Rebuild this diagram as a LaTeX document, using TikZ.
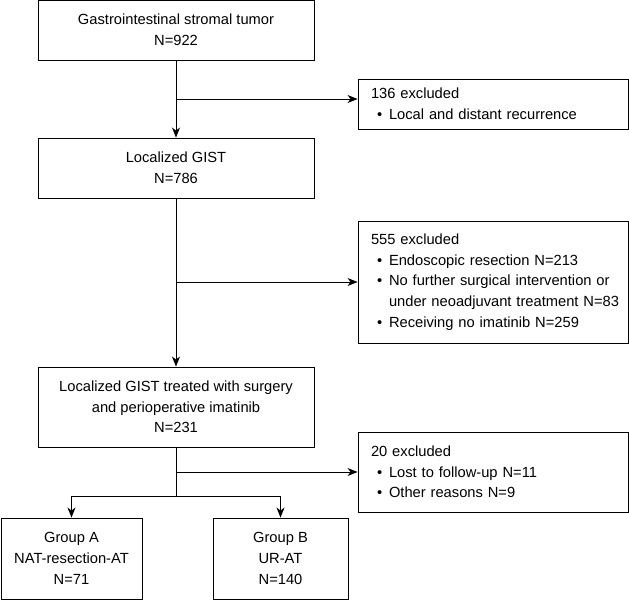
\documentclass[tikz,border=0pt]{standalone}
\usepackage{fontspec}
\setmainfont{Liberation Sans}
\usetikzlibrary{arrows.meta}
\newcommand{\bul}[1]{\mbox{\hspace*{6pt}\makebox[12pt][l]{\textbullet}#1}}
\newcommand{\cont}[1]{\mbox{\hspace*{18pt}#1}}
\begin{document}
\begin{tikzpicture}[x=1pt,y=-1pt,
  font=\fontsize{14.7}{20.7}\selectfont,
  box/.style={draw, line width=0.9pt, align=center, inner sep=0pt},
  exbox/.style={draw, line width=0.9pt, align=left, text width=244pt, inner xsep=13pt, inner ysep=0pt},
  conn/.style={line width=0.9pt},
  arr/.style={conn, -{Stealth[length=10pt,width=8pt,inset=3pt]}}]
\useasboundingbox (0,0) rectangle (629,600);

\node[box, minimum width=276pt, minimum height=60pt] (b1) at (176,30) {Gastrointestinal stromal tumor\\N=922};
\node[box, minimum width=276pt, minimum height=60pt] (b2) at (176,168) {Localized GIST\\N=786};
\node[box, minimum width=276pt, minimum height=80pt] (b3) at (176,407) {Localized GIST treated with surgery\\and perioperative imatinib\\N=231};
\node[box, minimum width=141pt, minimum height=81pt] (gA) at (71.5,558.5) {Group A\\NAT-resection-AT\\N=71};
\node[box, minimum width=135pt, minimum height=81pt] (gB) at (280.5,558.5) {Group B\\UR-AT\\N=140};

\node[exbox, minimum height=50pt] (e1) at (493,104) {136 excluded\\\bul{Local and distant recurrence}};
\node[exbox, minimum height=122pt] (e2) at (493,282) {555 excluded\\\bul{Endoscopic resection N=213}\\\bul{No further surgical intervention or}\\\cont{under neoadjuvant treatment N=83}\\\bul{Receiving no imatinib N=259}};
\node[exbox, minimum height=80pt] (e3) at (493,472) {20 excluded\\\bul{Lost to follow-up N=11}\\\bul{Other reasons N=9}};

\coordinate (j1) at (176,99);
\coordinate (j2) at (176,282);
\coordinate (j3) at (176,472);
\coordinate (s) at (176,496);

\draw[arr] (b1.south) -- (b2.north);
\draw[arr] (j1) -- (j1 -| e1.west);
\draw[arr] (b2.south) -- (b3.north);
\draw[arr] (j2) -- (e2.west);
\draw[conn] (b3.south) -- (s);
\draw[arr] (j3) -- (e3.west);
\draw[arr] (s) -| (gA.north);
\draw[arr] (s) -| (gB.north);
\end{tikzpicture}
\end{document}
